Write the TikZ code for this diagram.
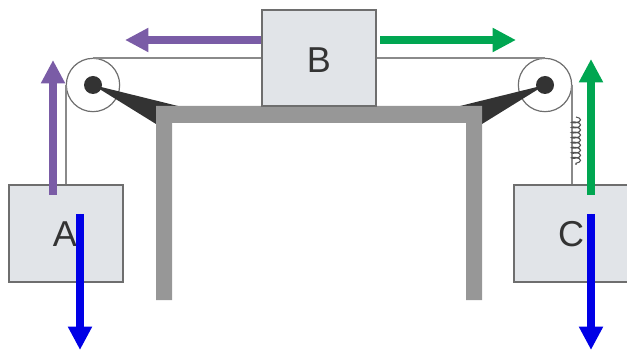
\documentclass[tikz,border=0pt]{standalone}
\usepackage{fontspec}
\setmainfont{Liberation Sans}
\usetikzlibrary{arrows.meta,decorations.pathmorphing}
\definecolor{boxfill}{HTML}{E1E4E8}
\definecolor{boxline}{HTML}{6E6E6E}
\definecolor{rope}{HTML}{8A8A8A}
\definecolor{frame}{HTML}{979797}
\definecolor{dark}{HTML}{333333}
\definecolor{purp}{HTML}{7A5CA6}
\definecolor{grn}{HTML}{00A651}
\definecolor{blu}{HTML}{0000E6}
\tikzset{
  x=0.75pt,y=-0.75pt,
  mass/.style={draw=boxline,fill=boxfill,line width=1.3pt,minimum width=85.5pt,minimum height=72.5pt,inner sep=0pt},
  lab/.style={font=\fontsize{27}{27}\selectfont,text=dark},
  pulley/.style={circle,draw=boxline,line width=0.9pt,minimum size=40pt,inner sep=0pt},
  hub/.style={circle,fill=dark,minimum size=13.5pt,inner sep=0pt},
  ropeline/.style={draw=rope,line width=1.7pt},
  force/.style={line width=5.6pt,-{Triangle[length=17.5pt,width=17pt]}},
  leg/.style={fill=frame},
  wedge/.style={fill=dark},
}
\begin{document}
\begin{tikzpicture}
\useasboundingbox (0,0) rectangle (627,352);
\clip (0,0) rectangle (627,352);
% pulleys
\node[pulley] (pl) at (93,85) {};
\node[pulley] (pr) at (545,85) {};
% frame
\fill[wedge] (93,85) -- (178,106) -- (156,124) -- cycle;
\fill[wedge] (545,85) -- (460,106) -- (482,124) -- cycle;
\fill[leg] (156,300) -- (156,106) -- (482,106) -- (482,300) -- (466,300) -- (466,123) -- (172,123) -- (172,300) -- cycle;
\node[hub] (hl) at (93,85) {};
\node[hub] (hr) at (545,85) {};
% masses
\node[mass] (A) at (66,233.5) {};
\node[mass] (B) at (319,58) {};
\node[mass] (C) at (571,233.5) {};
\node[lab] (la) at (65,234) {A};
\node[lab] (lb) at (319,60) {B};
\node[lab] (lc) at (571,234) {C};
% ropes
\draw[ropeline] (pl.north) -- (pl.north -| B.west);
\draw[ropeline] (pr.north -| B.east) -- (pr.north);
\draw[ropeline] (pl.west) -- (pl.west |- A.north);
\draw[ropeline] (pr.east) -- (pr.east |- C.north);
% spring
\coordinate (s1) at (576,117);
\coordinate (s2) at (576,165);
\draw[draw=dark!85,line width=0.8pt,decorate,decoration={coil,segment length=3.8pt,amplitude=3.4pt,aspect=0.35}] (s1) -- (s2);
% forces
\coordinate (pvs) at (53,195); \coordinate (pve) at (53,60);
\coordinate (phe) at (125,40);
\coordinate (ghs) at (380,40); \coordinate (ghe) at (516,40);
\coordinate (gvs) at (591,195); \coordinate (gve) at (591,59);
\coordinate (bas) at (80,214); \coordinate (bae) at (80,350);
\coordinate (bcs) at (591,214); \coordinate (bce) at (591,350);
\draw[force,draw=purp,fill=purp] (pvs) -- (pve);
\draw[force,draw=purp,fill=purp] (B.west |- phe) -- (phe);
\draw[force,draw=grn,fill=grn] (ghs) -- (ghe);
\draw[force,draw=grn,fill=grn] (gvs) -- (gve);
\draw[force,draw=blu,fill=blu] (bas) -- (bae);
\draw[force,draw=blu,fill=blu] (bcs) -- (bce);
\end{tikzpicture}
\end{document}
